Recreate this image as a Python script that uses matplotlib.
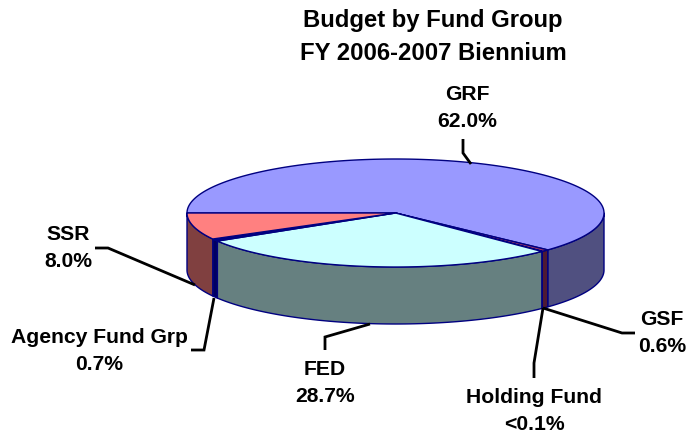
import numpy as np
import matplotlib
matplotlib.use("Agg")
import matplotlib.pyplot as plt

plt.rcParams['font.family'] = ['Liberation Sans', 'DejaVu Sans']

title_lines = ["Budget by Fund Group", "FY 2006-2007 Biennium"]
categories = ["GRF", "GSF", "Holding Fund", "FED", "Agency Fund Grp", "SSR"]
shares = [62.0, 0.6, 0.05, 28.7, 0.7, 8.0]
share_labels = ["62.0%", "0.6%", "<0.1%", "28.7%", "0.7%", "8.0%"]

top_colors = ["#9999FF", "#993366", "#FFFFCC", "#CCFFFF", "#000080", "#FF8080"]
side_colors = ["#505080", "#4D1A33", "#808066", "#668080", "#000060", "#804040"]
EDGE = "#000080"

label_pos = [(467, 108), (662, 333), (534, 411), (325, 383), (99, 351), (68, 248)]
leaders = [
    [(463, 139), (463, 153), (471, 164)],
    [(543, 308), (622, 333), (635, 333)],
    [(543, 308), (534, 363), (534, 378)],
    [(370, 324), (325, 337), (325, 350)],
    [(214, 298), (204, 350), (191, 350)],
    [(195, 285), (108, 248), (95, 248)],
]

W, H = 689, 436
CX, CY, RX, RY, DEPTH = 395.5, 213, 208.5, 54, 57

fig = plt.figure(figsize=(W / 100, H / 100), dpi=100)
ax = fig.add_axes([0, 0, 1, 1])
ax.set_xlim(0, W)
ax.set_ylim(H, 0)
ax.axis("off")


def pt(t):
    return CX + RX * np.cos(t), CY - RY * np.sin(t)


frac = np.array(shares) / np.sum(shares)
edges = np.pi - 2 * np.pi * np.concatenate([[0], np.cumsum(frac)])

# side walls (front half only)
for i in range(len(shares)):
    a, b = edges[i], edges[i + 1]
    hi = min(a, 0.0) if a > -np.pi else -np.pi
    lo = max(b, -np.pi)
    if hi <= lo:
        continue
    t = np.linspace(hi, lo, 80)
    x, y = pt(t)
    px = np.concatenate([x, x[::-1]])
    py = np.concatenate([y, y[::-1] + DEPTH])
    ax.fill(px, py, facecolor=side_colors[i], edgecolor=EDGE, lw=1.0, zorder=2, joinstyle="round")

# top face
for i in range(len(shares)):
    t = np.linspace(edges[i], edges[i + 1], max(3, int(abs(edges[i] - edges[i + 1]) * 100)))
    x, y = pt(t)
    ax.fill(np.r_[CX, x], np.r_[CY, y], facecolor=top_colors[i], edgecolor=EDGE, lw=1.0, zorder=3)

# leaders
for pts in leaders:
    xs, ys = zip(*pts)
    ax.plot(xs, ys, color="black", lw=2.0, zorder=4, solid_capstyle="butt", solid_joinstyle="miter")

# labels
for name, lab, (x, y) in zip(categories, share_labels, label_pos):
    ax.text(x, y, f"{name}\n{lab}", ha="center", va="center", fontsize=15.2,
            fontweight="bold", linespacing=1.57, zorder=5)

ax.text(433, 37, "\n".join(title_lines), ha="center", va="center", fontsize=17.2,
        fontweight="bold", linespacing=1.55, zorder=5)

fig.savefig("out.png", dpi=100)
